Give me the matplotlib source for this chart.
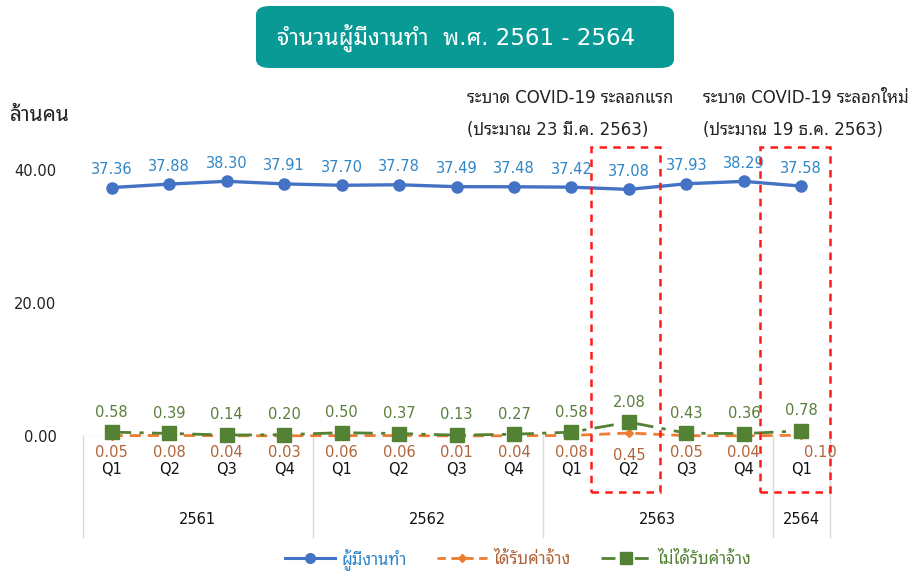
import matplotlib
matplotlib.use("Agg")
import matplotlib.pyplot as plt
from matplotlib.patches import FancyBboxPatch, Rectangle
from matplotlib.lines import Line2D

FONT = ['DejaVu Sans', 'Noto Sans Thai Looped']
plt.rcParams['font.family'] = FONT

# ---------------- data ----------------
quarters = ["Q1", "Q2", "Q3", "Q4", "Q1", "Q2", "Q3", "Q4", "Q1", "Q2", "Q3", "Q4", "Q1"]
years = ["2561", "2562", "2563", "2564"]
year_sizes = [4, 4, 4, 1]
employed = [37.36, 37.88, 38.30, 37.91, 37.70, 37.78, 37.49, 37.48, 37.42, 37.08, 37.93, 38.29, 37.58]
paid = [0.05, 0.08, 0.04, 0.03, 0.06, 0.06, 0.01, 0.04, 0.08, 0.45, 0.05, 0.04, 0.10]
unpaid = [0.58, 0.39, 0.14, 0.20, 0.50, 0.37, 0.13, 0.27, 0.58, 2.08, 0.43, 0.36, 0.78]
yticks = [0, 20, 40]
series_names = ["ผู้มีงานทำ", "ได้รับค่าจ้าง", "ไม่ได้รับค่าจ้าง"]
title = "จำนวนผู้มีงานทำ  พ.ศ. 2561 - 2564"
ylabel = "ล้านคน"
wave1 = ["ระบาด COVID-19 ระลอกแรก", "(ประมาณ 23 มี.ค. 2563)"]
wave2 = ["ระบาด COVID-19 ระลอกใหม่", "(ประมาณ 19 ธ.ค. 2563)"]
highlight_idx = [9, 12]

C_EMP = "#4472C4"
C_EMP_TXT = "#2E86C8"
C_PAID = "#ED7D31"
C_PAID_TXT = "#B0643A"
C_UNP = "#548235"
C_UNP_TXT = "#5A7F3C"

W, H = 919, 571
fig = plt.figure(figsize=(W / 100, H / 100), dpi=100)

def fx(px):
    return px / W

def fy(py):
    return 1 - py / H

ax_l, ax_r, ax_b, ax_t = 83, 830, 436, 170
PXU = (ax_b - ax_t) / 40.0  # pixels per data unit
ax = fig.add_axes([fx(ax_l), fy(ax_b), fx(ax_r - ax_l), (ax_b - ax_t) / H])
n = len(quarters)
x = list(range(n))
ax.set_xlim(-0.5, n - 0.5)
ax.set_ylim(0, 40)
for s in ax.spines.values():
    s.set_visible(False)
ax.set_xticks([])
ax.set_yticks(yticks)
ax.set_yticklabels([f"{v:.2f}" for v in yticks], fontsize=10.5, color="#222222")
ax.tick_params(axis='y', length=0, pad=19)
ax.patch.set_alpha(0)

# bottom category axis line
ax.axhline(0, color="#D9D9D9", lw=1, zorder=1)

# series
ax.plot(x, employed, color=C_EMP, lw=2.4, marker='o', ms=8, clip_on=False, zorder=4)
ax.plot(x, paid, color=C_PAID, lw=2, ls=(0, (4, 2.5)), marker='D', ms=4.5, clip_on=False, zorder=3)
ax.plot(x, unpaid, color=C_UNP, lw=2, ls=(0, (7, 3, 1.5, 3)), marker='s', ms=9.5, clip_on=False, zorder=3)

# data labels
for i in x:
    ax.annotate(f"{employed[i]:.2f}", (i, employed[i]), xytext=(0, 13), textcoords='offset points',
                ha='center', va='center', fontsize=10.5, color=C_EMP_TXT, annotation_clip=False)
    ax.annotate(f"{unpaid[i]:.2f}", (i, unpaid[i]), xytext=(0, 14.5), textcoords='offset points',
                ha='center', va='center', fontsize=10.5, color=C_UNP_TXT, annotation_clip=False)
    dx = 14 if i == n - 1 else 0
    dy = -16 if i == 9 else -12
    ax.annotate(f"{paid[i]:.2f}", (i, paid[i]), xytext=(dx, dy), textcoords='offset points',
                ha='center', va='center', fontsize=10.5, color=C_PAID_TXT, annotation_clip=False)

# quarter labels
for i, q in enumerate(quarters):
    ax.text(i, -34 / PXU, q, ha='center', va='center', fontsize=10.5,
            color="#111111", clip_on=False)

# year groups
start = -0.5
bounds = [start]
for yr, sz in zip(years, year_sizes):
    mid = start + sz / 2
    ax.text(mid, -84 / PXU, yr, ha='center', va='center', fontsize=10.5, color="#111111", clip_on=False)
    start += sz
    bounds.append(start)
for b in bounds:
    ax.plot([b, b], [0, -101 / PXU], color="#D9D9D9", lw=1, clip_on=False, zorder=1)

# highlight boxes
for idx in highlight_idx:
    if idx == n - 1:
        x0, x1 = idx - 0.72, idx + 0.5
    else:
        x0, x1 = idx - 0.66, idx + 0.55
    y0, y1 = -56 / PXU, (436 - 147) / PXU
    ax.add_patch(Rectangle((x0, y0), x1 - x0, y1 - y0, fill=False, ec="#FF1A1A", lw=1.8,
                           ls=(0, (3, 2.5)), clip_on=False, zorder=5))

# title box
box = FancyBboxPatch((fx(256), fy(68)), fx(418), (68 - 6) / H,
                     boxstyle="round,pad=0,rounding_size=0.015", transform=fig.transFigure,
                     fc="#0A9A96", ec="none")
fig.add_artist(box)
fig.text(fx(456), fy(38), title, ha='center', va='center', fontsize=16.5, color="white")

# y unit
fig.text(fx(10), fy(115), ylabel, ha='left', va='center', fontsize=15, color="#222222")

# wave annotations
for (l1, l2), xp in ((wave1, 467), (wave2, 703)):
    fig.text(fx(xp), fy(98), l1, ha='left', va='center', fontsize=12, color="#222222")
    fig.text(fx(xp), fy(130), l2, ha='left', va='center', fontsize=12, color="#222222")

# legend
handles = [
    Line2D([], [], color=C_EMP, lw=2.2, marker='o', ms=7),
    Line2D([], [], color=C_PAID, lw=2, ls=(0, (3, 2)), marker='D', ms=4),
    Line2D([], [], color=C_UNP, lw=2, ls=(0, (5, 3, 1, 3)), marker='s', ms=9),
]
leg = fig.legend(handles, series_names, loc='center', bbox_to_anchor=(fx(518), fy(559)), ncol=3,
                 frameon=False, fontsize=12, handlelength=3.0, columnspacing=1.8, handletextpad=0.4)
for t, c in zip(leg.get_texts(), [C_EMP_TXT, C_PAID_TXT, C_UNP]):
    t.set_color(c)

fig.savefig("out.png", dpi=100)
